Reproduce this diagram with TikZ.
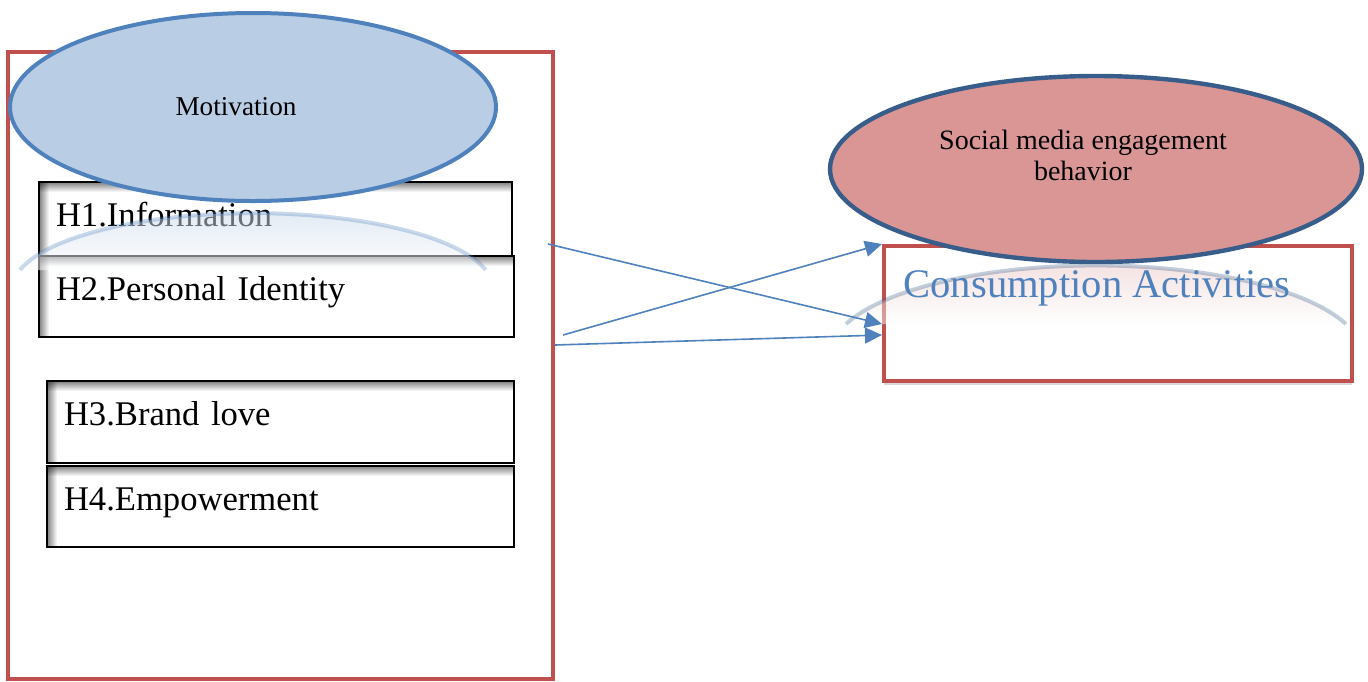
\documentclass[tikz,border=0pt]{standalone}
\usepackage{fontspec}
\setmainfont{Liberation Serif}
\usetikzlibrary{arrows.meta,positioning,calc,shapes.geometric,shadows}
\definecolor{framered}{HTML}{C0504D}
\definecolor{motfill}{HTML}{B9CDE5}
\definecolor{motline}{HTML}{4F81BD}
\definecolor{smefill}{HTML}{D99694}
\definecolor{smeline}{HTML}{385D8A}
\definecolor{linkblue}{HTML}{4F81BD}

\begin{document}
\begin{tikzpicture}[
  x=0.5pt, y=-0.5pt,
  panel/.style = {draw=framered, line width=2pt, inner sep=0pt},
  hyp/.style   = {draw=black, line width=1pt, fill=white, anchor=north west,
                  inner xsep=8.5pt, inner ysep=0pt, text height=22pt, text depth=18.5pt,
                  align=left, font=\fontsize{17.3}{20}\selectfont,
                  path picture={
                    \foreach \k [evaluate=\k as \op using 0.5-0.05*\k,
                                 evaluate=\k as \off using 0.25+0.5*\k] in {0,...,9} {
                      \draw[black, draw opacity=\op, line width=0.55pt]
                        ([yshift=-\off pt]path picture bounding box.north west)
                        -- ([yshift=-\off pt]path picture bounding box.north east);
                      \draw[black, draw opacity=\op, line width=0.55pt]
                        ([xshift=\off pt]path picture bounding box.north west)
                        -- ([xshift=\off pt]path picture bounding box.south west);
                    }
                  }},
  oval/.style  = {ellipse, inner sep=0pt},
  link/.style  = {-{Triangle[length=8.5pt, width=8pt]}, draw=linkblue, line width=0.8pt},
]
\useasboundingbox (0,0) rectangle (1368,681);

% --- left panel with the four motives -------------------------------------------------------
\node[panel, minimum width=272.5pt, minimum height=313.5pt] (frame) at (280.5,365.5) {};

\node[hyp, text width=219.5pt, text depth=15pt] (h1) at (38,181)  {H1.Information};
\node[hyp, text width=220.5pt]                  (h2) at (38,255)  {H2.Personal Identity};
\node[hyp, text width=216.5pt, text depth=19pt] (h3) at (46,380)  {H3.Brand love};
\node[hyp, text width=216.5pt]                  (h4) at (46,465)  {H4.Empowerment};

% reflection of the oval
\shade[top color=motline!35, bottom color=white, fill opacity=0.5]
  (20,270) arc[start angle=194, end angle=346, x radius=240, y radius=75] -- cycle;
\draw[motline, line width=2pt, draw opacity=0.3]
  (20,270) arc[start angle=194, end angle=346, x radius=240, y radius=75];

\node[oval, fill=motfill, draw=motline, line width=2pt, minimum width=243pt, minimum height=94pt]
  (motiv) at (253,107) {};
\node[font=\fontsize{13.6}{16}\selectfont] (motlbl) at ($(motiv.center)+(-17,0)$) {Motivation};

% --- right side: the outcome ---------------------------------------------------------------
\node[draw=framered, line width=2pt, fill=white, anchor=north west,
      minimum width=234pt, minimum height=67.5pt,
      drop shadow={shadow xshift=0pt, shadow yshift=-2pt, opacity=0.3}] (cons) at (882,244) {};

% reflection of the oval
\shade[top color=smefill!70, bottom color=white, fill opacity=0.45]
  (846,324) arc[start angle=200, end angle=340, x radius=266, y radius=89] -- cycle;
\draw[smeline, line width=2pt, draw opacity=0.3]
  (846,324) arc[start angle=200, end angle=340, x radius=266, y radius=89];

\node[anchor=base, text=linkblue, font=\fontsize{20.3}{24}\selectfont] (conslbl)
  at ($(cons.north)+(-21,53)$) {Consumption Activities};

\node[oval, fill=smefill, draw=smeline, line width=2.2pt, minimum width=266pt, minimum height=93pt]
  (smeb) at (1096,169) {};
\node[align=center, font=\fontsize{14}{15.5}\selectfont] (smelbl) at ($(smeb.center)+(-13,-14)$)
  {Social media engagement\\behavior};

% --- the links ----------------------------------------------------------------------------
\coordinate (s1) at (548,244);
\coordinate (s2) at (563,335);
\coordinate (s3) at (555,345);
\coordinate (e1) at ($(cons.north west)+(0,80)$);
\coordinate (e3) at ($(cons.north west)+(0,91)$);

\draw[link] (s1) -- (e1);
\draw[link] (s2) -- (cons.north west);
\draw[link] (s3) -- (e3);

\end{tikzpicture}
\end{document}
